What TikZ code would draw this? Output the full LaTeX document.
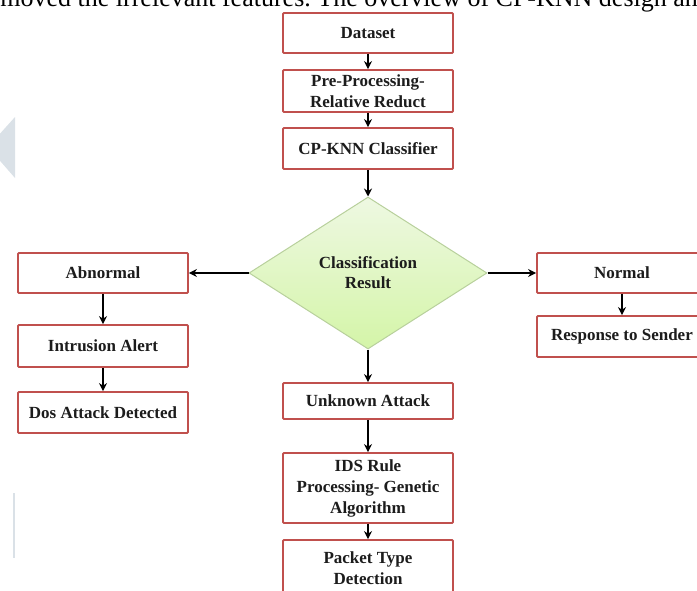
\documentclass[tikz,border=0pt]{standalone}
\usepackage{fontspec}
\setmainfont{Liberation Serif}
\usetikzlibrary{shapes.geometric,arrows.meta}
\definecolor{boxred}{RGB}{192,80,77}
\definecolor{textdark}{RGB}{28,28,28}
\definecolor{diaedge}{RGB}{184,208,156}
\definecolor{diatop}{RGB}{238,248,226}
\definecolor{diabot}{RGB}{212,245,168}
\definecolor{wmark}{RGB}{218,225,231}
\begin{document}
\begin{tikzpicture}[
  x=1pt, y=-1pt,
  box/.style={rectangle, draw=boxred, line width=1.8pt, fill=white, rounded corners=1pt,
    minimum width=170pt, inner sep=3pt, align=center, text=textdark,
    font=\fontsize{17}{21}\selectfont\bfseries},
  decision/.style={diamond, draw=diaedge, line width=1pt, top color=diatop, bottom color=diabot,
    minimum width=238pt, minimum height=152pt, aspect=1.57, inner sep=0pt, align=center,
    text=textdark, font=\fontsize{17}{20}\selectfont\bfseries},
  flow/.style={line width=1.8pt, draw=black, -{Stealth[length=8pt,width=8pt]}}
]
  \useasboundingbox (0,0) rectangle (697,590);
  \clip (0,0) rectangle (697,590);

  % Fondo: linea de texto cortada y marca de agua
  \node[anchor=base west, inner sep=0pt, font=\fontsize{26}{30}\selectfont] (pagetext) at (-20,6)
    {removed the irrelevant features.\ The overview of CP-KNN design and};
  \fill[wmark] (15,117) -- (15,178) -- (-12,147) -- cycle;
  \draw[wmark, line width=1.2pt] (14,493) -- (14,558);

  % Columna central
  \node[box, minimum height=40pt] (dataset) at (368,33) {Dataset};
  \node[box, minimum height=42pt] (preproc) at (368,91) {Pre-Processing-\\Relative Reduct};
  \node[box, minimum height=41pt] (cpknn) at (368,148.5) {CP-KNN Classifier};
  \node[decision] (result) at (368,273) {Classification\\Result};
  \node[box, minimum height=36pt] (unknown) at (368,401) {Unknown Attack};
  \node[box, minimum height=70pt] (idsrule) at (368,488) {IDS Rule\\Processing- Genetic\\Algorithm};
  \node[box, minimum height=56pt] (packet) at (368,568) {Packet Type\\Detection};

  % Rama izquierda
  \node[box, minimum height=40pt] (abnormal) at (103,273) {Abnormal};
  \node[box, minimum height=42pt] (intrusion) at (103,346) {Intrusion Alert};
  \node[box, minimum height=41pt] (dosattack) at (103,412.5) {Dos Attack Detected};

  % Rama derecha
  \node[box, minimum height=40pt] (normal) at (622,273) {Normal};
  \node[box, minimum height=41pt] (response) at (622,336.5) {Response to Sender};

  % Flechas
  \draw[flow] (dataset) -- (preproc);
  \draw[flow] (preproc) -- (cpknn);
  \draw[flow] (cpknn) -- (result);
  \draw[flow] (result) -- (abnormal);
  \draw[flow] (result) -- (normal);
  \draw[flow] (result) -- (unknown);
  \draw[flow] (unknown) -- (idsrule);
  \draw[flow] (idsrule) -- (packet);
  \draw[flow] (abnormal) -- (intrusion);
  \draw[flow] (intrusion) -- (dosattack);
  \draw[flow] (normal) -- (response);
\end{tikzpicture}
\end{document}
